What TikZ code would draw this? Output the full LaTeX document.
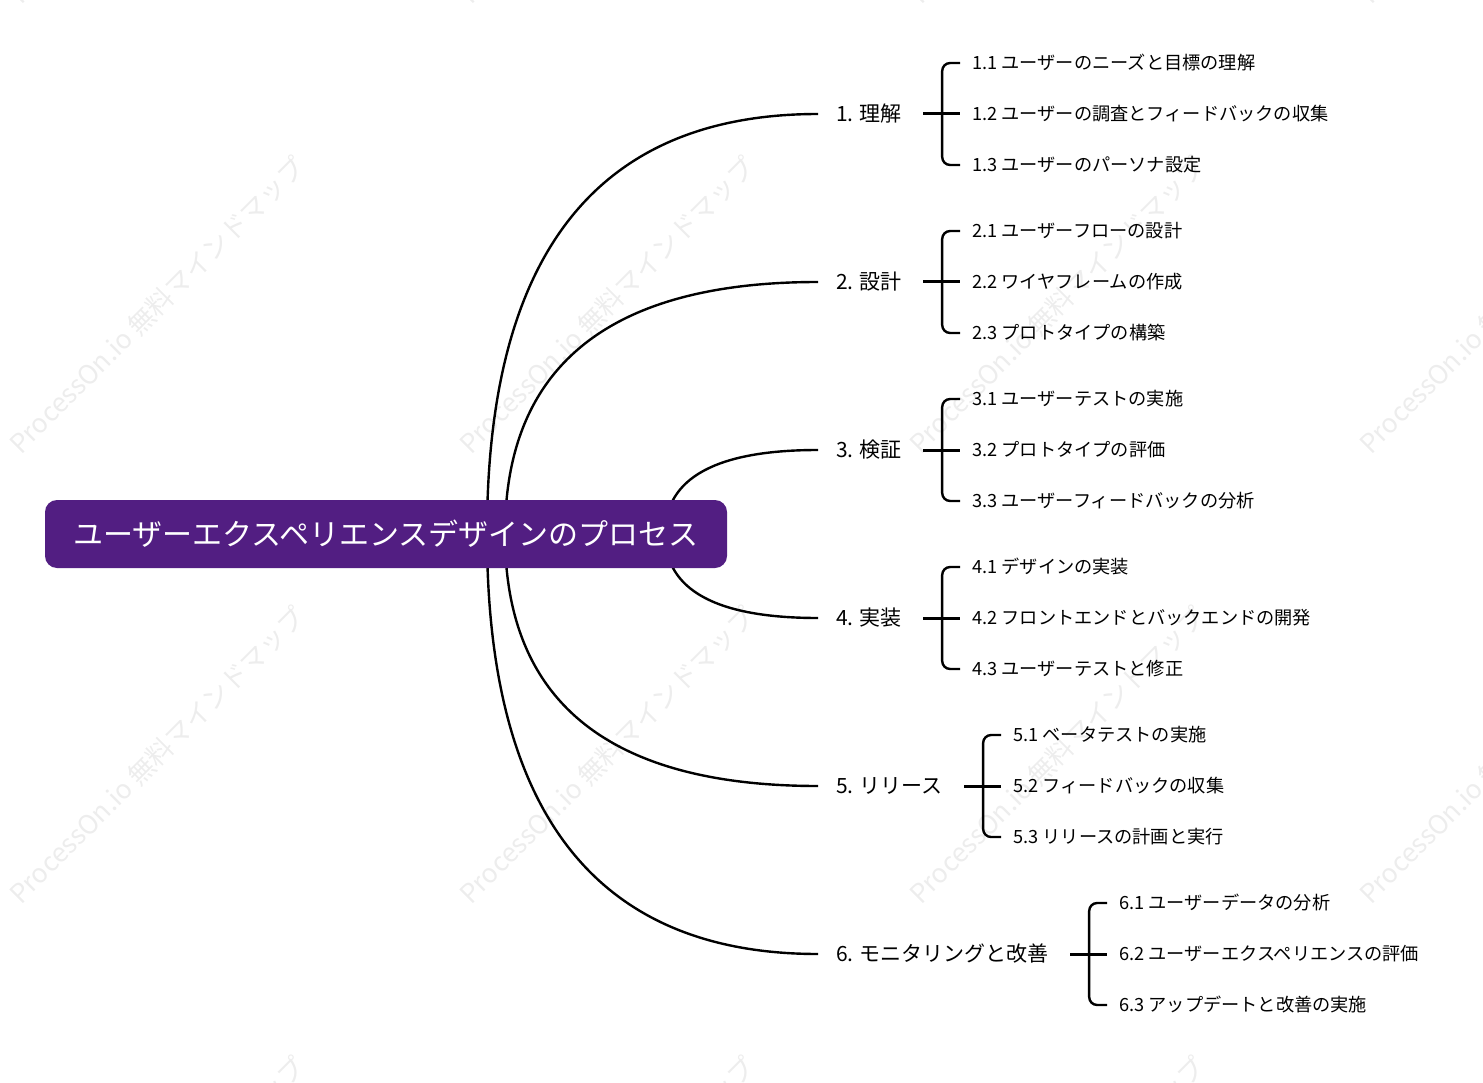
\documentclass[tikz,border=0pt]{standalone}
\usepackage{fontspec}
\setmainfont{Noto Sans CJK JP}
\usetikzlibrary{positioning,calc}
\definecolor{rootpurple}{HTML}{521E82}
\tikzset{
  branch/.style={anchor=west, inner sep=0pt, font=\fontsize{21}{24}\selectfont},
  leaf/.style={anchor=west, inner sep=0pt, font=\fontsize{18.2}{21}\selectfont},
  curve/.style={line width=2.4pt},
  brace/.style={line width=2.4pt, rounded corners=8pt},
  stem/.style={line width=3pt},
  wmark/.style={rotate=45, text=black!7, font=\fontsize{26.4}{28}\selectfont}
}
\begin{document}
\begin{tikzpicture}[x=1pt,y=-1pt]
  \useasboundingbox (0,0) rectangle (1483,1083);
  \clip (0,0) rectangle (1483,1083);
  \foreach \x in {157,607,1057,1507}
    \foreach \y in {-145,305,755,1205}
      \node[wmark] (w\x-\y) at (\x,\y) {ProcessOn.io 無料マインドマップ};

  \node[branch] (b1) at (836,114) {1. 理解};
  \node[branch] (b2) at (836,282) {2. 設計};
  \node[branch] (b3) at (836,450) {3. 検証};
  \node[branch] (b4) at (836,618) {4. 実装};
  \node[branch] (b5) at (836,786) {5. リリース};
  \node[branch] (b6) at (836,954) {6. モニタリングと改善};

  \foreach \i in {1,...,6}{
    \coordinate[right=21pt of b\i] (s\i);
    \coordinate[right=19pt of s\i] (v\i);
    \coordinate[left=18pt of b\i] (e\i);
  }

  \node[leaf] (l11) at ($(v1)+(30,-51)$) {1.1 ユーザーのニーズと目標の理解};
  \node[leaf] (l12) at ($(v1)+(30,0)$) {1.2 ユーザーの調査とフィードバックの収集};
  \node[leaf] (l13) at ($(v1)+(30,51)$) {1.3 ユーザーのパーソナ設定};
  \node[leaf] (l21) at ($(v2)+(30,-51)$) {2.1 ユーザーフローの設計};
  \node[leaf] (l22) at ($(v2)+(30,0)$) {2.2 ワイヤフレームの作成};
  \node[leaf] (l23) at ($(v2)+(30,51)$) {2.3 プロトタイプの構築};
  \node[leaf] (l31) at ($(v3)+(30,-51)$) {3.1 ユーザーテストの実施};
  \node[leaf] (l32) at ($(v3)+(30,0)$) {3.2 プロトタイプの評価};
  \node[leaf] (l33) at ($(v3)+(30,51)$) {3.3 ユーザーフィードバックの分析};
  \node[leaf] (l41) at ($(v4)+(30,-51)$) {4.1 デザインの実装};
  \node[leaf] (l42) at ($(v4)+(30,0)$) {4.2 フロントエンドとバックエンドの開発};
  \node[leaf] (l43) at ($(v4)+(30,51)$) {4.3 ユーザーテストと修正};
  \node[leaf] (l51) at ($(v5)+(30,-51)$) {5.1 ベータテストの実施};
  \node[leaf] (l52) at ($(v5)+(30,0)$) {5.2 フィードバックの収集};
  \node[leaf] (l53) at ($(v5)+(30,51)$) {5.3 リリースの計画と実行};
  \node[leaf] (l61) at ($(v6)+(30,-51)$) {6.1 ユーザーデータの分析};
  \node[leaf] (l62) at ($(v6)+(30,0)$) {6.2 ユーザーエクスペリエンスの評価};
  \node[leaf] (l63) at ($(v6)+(30,51)$) {6.3 アップデートと改善の実施};

  \foreach \i in {1,...,6}{
    \draw[stem] (s\i) -- ([xshift=-12pt]l\i2.west);
    \draw[brace] ([xshift=-12pt]l\i1.west) -| (v\i) |- ([xshift=-12pt]l\i3.west);
  }

  \coordinate (c1) at (487,534);
  \coordinate (c2) at (505,534);
  \coordinate (c3) at (665,534);
  \coordinate (c4) at (665,534);
  \coordinate (c5) at (505,534);
  \coordinate (c6) at (487,534);
  \foreach \i in {1,...,6}
    \draw[curve] (c\i) .. controls ($(c\i)!0.667!(c\i |- e\i)$) and ($(e\i)!0.667!(c\i |- e\i)$) .. (e\i);

  \node[fill=rootpurple, text=white, rounded corners=12pt, minimum width=682pt,
    minimum height=68pt, font=\fontsize{30}{33}\selectfont] (root) at (386,534)
    {ユーザーエクスペリエンスデザインのプロセス};
\end{tikzpicture}
\end{document}
